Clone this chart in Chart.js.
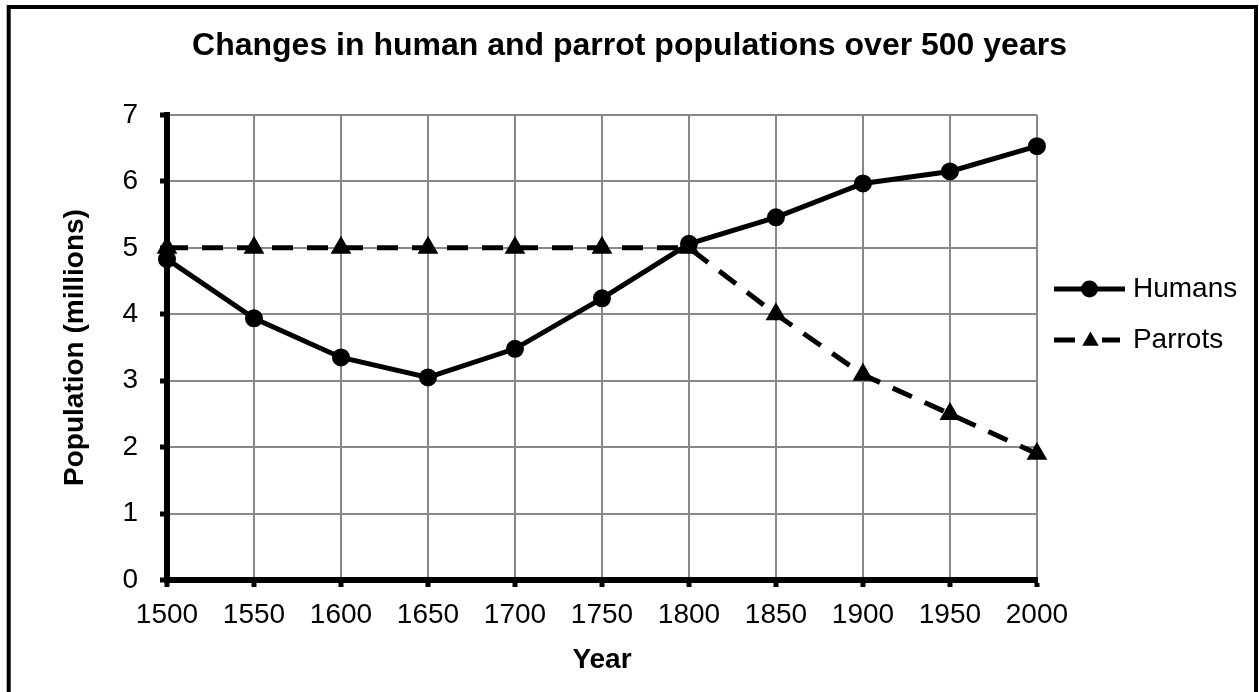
<!DOCTYPE html>
<html>
<head>
<meta charset="utf-8">
<script src="https://cdn.jsdelivr.net/npm/chart.js@4/dist/chart.umd.min.js"></script>
<style>
  html, body { margin: 0; padding: 0; background: #fff; }
  #wrap { width: 1259px; height: 692px; }
</style>
</head>
<body>
<div id="wrap"><canvas id="c" width="1259" height="692"></canvas></div>
<script>
const years = ['1500','1550','1600','1650','1700','1750','1800','1850','1900','1950','2000'];
const humans = [4.83, 3.94, 3.35, 3.05, 3.48, 4.24, 5.06, 5.46, 5.97, 6.15, 6.53];
const parrots = [5, 5, 5, 5, 5, 5, 5, 4.0, 3.09, 2.5, 1.9];
const yTicks = [0, 1, 2, 3, 4, 5, 6, 7];
const titleText = 'Changes in human and parrot populations over 500 years';
const xTitle = 'Year';
const yTitle = 'Population (millions)';

const FONT = "'Liberation Sans', Arial, sans-serif";
Chart.defaults.font.family = FONT;
Chart.defaults.color = '#000';

function legendSample(kind) {
  const c = document.createElement('canvas');
  c.width = 71; c.height = 24;
  const g = c.getContext('2d');
  g.fillStyle = '#000'; g.strokeStyle = '#000'; g.lineWidth = 5;
  if (kind === 'circle') {
    g.beginPath(); g.moveTo(0, 12); g.lineTo(71, 12); g.stroke();
    g.beginPath(); g.arc(35.5, 12, 8.5, 0, Math.PI * 2); g.fill();
  } else {
    g.beginPath(); g.moveTo(0, 12); g.lineTo(21, 12); g.stroke();
    g.beginPath(); g.moveTo(48, 12); g.lineTo(66, 12); g.stroke();
    const cx = 36.5, cy = 13, r = 9.5;
    g.beginPath();
    g.moveTo(cx, cy - r);
    g.lineTo(cx + r * Math.sin(2 * Math.PI / 3), cy - r * Math.cos(2 * Math.PI / 3));
    g.lineTo(cx + r * Math.sin(4 * Math.PI / 3), cy - r * Math.cos(4 * Math.PI / 3));
    g.closePath(); g.fill();
  }
  return c;
}
const samples = [legendSample('circle'), legendSample('triangle')];

const framePlugin = {
  id: 'frame',
  afterDraw(chart) {
    const ctx = chart.ctx;
    ctx.save();
    ctx.strokeStyle = '#000';
    ctx.lineWidth = 4;
    ctx.strokeRect(8.7, 7, 1247.3, 720);
    ctx.restore();
  }
};

new Chart(document.getElementById('c'), {
  type: 'line',
  data: {
    labels: years,
    datasets: [
      {
        label: 'Humans',
        data: humans,
        borderColor: '#000',
        backgroundColor: '#000',
        borderWidth: 5,
        pointStyle: 'circle',
        pointRadius: 8,
        pointBorderWidth: 2,
        pointBackgroundColor: '#000',
        pointBorderColor: '#000',
        tension: 0,
        clip: false
      },
      {
        label: 'Parrots',
        data: parrots,
        borderColor: '#000',
        backgroundColor: '#000',
        borderWidth: 5,
        borderDash: [21, 14],
        pointStyle: 'triangle',
        pointRadius: 10.5,
        pointBorderWidth: 1.5,
        pointBackgroundColor: '#000',
        pointBorderColor: '#000',
        tension: 0,
        clip: false
      }
    ]
  },
  options: {
    responsive: false,
    animation: false,
    events: [],
    layout: { padding: { left: 11.8, right: 11.8, top: 0, bottom: 0 } },
    plugins: {
      tooltip: { enabled: false },
      title: {
        display: true,
        text: titleText,
        color: '#000',
        font: { size: 32, weight: 'bold', family: FONT },
        padding: { top: 27.3, bottom: 49.3 }
      },
      legend: {
        display: true,
        position: 'right',
        align: 'start',
        fullSize: false,
        title: { display: true, text: '', font: { size: 10 }, padding: { top: 125, bottom: 0 } },
        labels: {
          color: '#000',
          font: { size: 28, family: FONT },
          usePointStyle: true,
          pointStyleWidth: 59,
          padding: 23,
          generateLabels(chart) {
            const items = Chart.defaults.plugins.legend.labels.generateLabels(chart);
            items.forEach((it, i) => { it.pointStyle = samples[i]; });
            return items;
          }
        }
      }
    },
    scales: {
      x: {
        type: 'category',
        offset: false,
        afterFit(s) { s.height = 112; },
        grid: { color: '#888', lineWidth: 2, tickColor: '#000', tickWidth: 5, tickLength: 7, drawTicks: true },
        border: { color: '#000', width: 6 },
        ticks: { color: '#000', font: { size: 28 }, padding: 11, maxRotation: 0, autoSkip: false },
        title: { display: true, text: xTitle, color: '#000', font: { size: 28, weight: 'bold' }, padding: { top: 0, bottom: 15.2 } }
      },
      y: {
        min: 0,
        max: 7,
        afterFit(s) { s.width = 155.2; },
        afterBuildTicks(s) { s.ticks = yTicks.map(v => ({ value: v })); },
        grid: { color: '#888', lineWidth: 2, tickColor: '#000', tickWidth: 5, tickLength: 7, drawTicks: true },
        border: { color: '#000', width: 6 },
        ticks: { color: '#000', font: { size: 28 }, padding: 22 },
        title: { display: true, text: yTitle, color: '#000', font: { size: 28, weight: 'bold' }, padding: { top: 46.7, bottom: 0 } }
      }
    }
  },
  plugins: [framePlugin]
});
</script>
</body>
</html>
